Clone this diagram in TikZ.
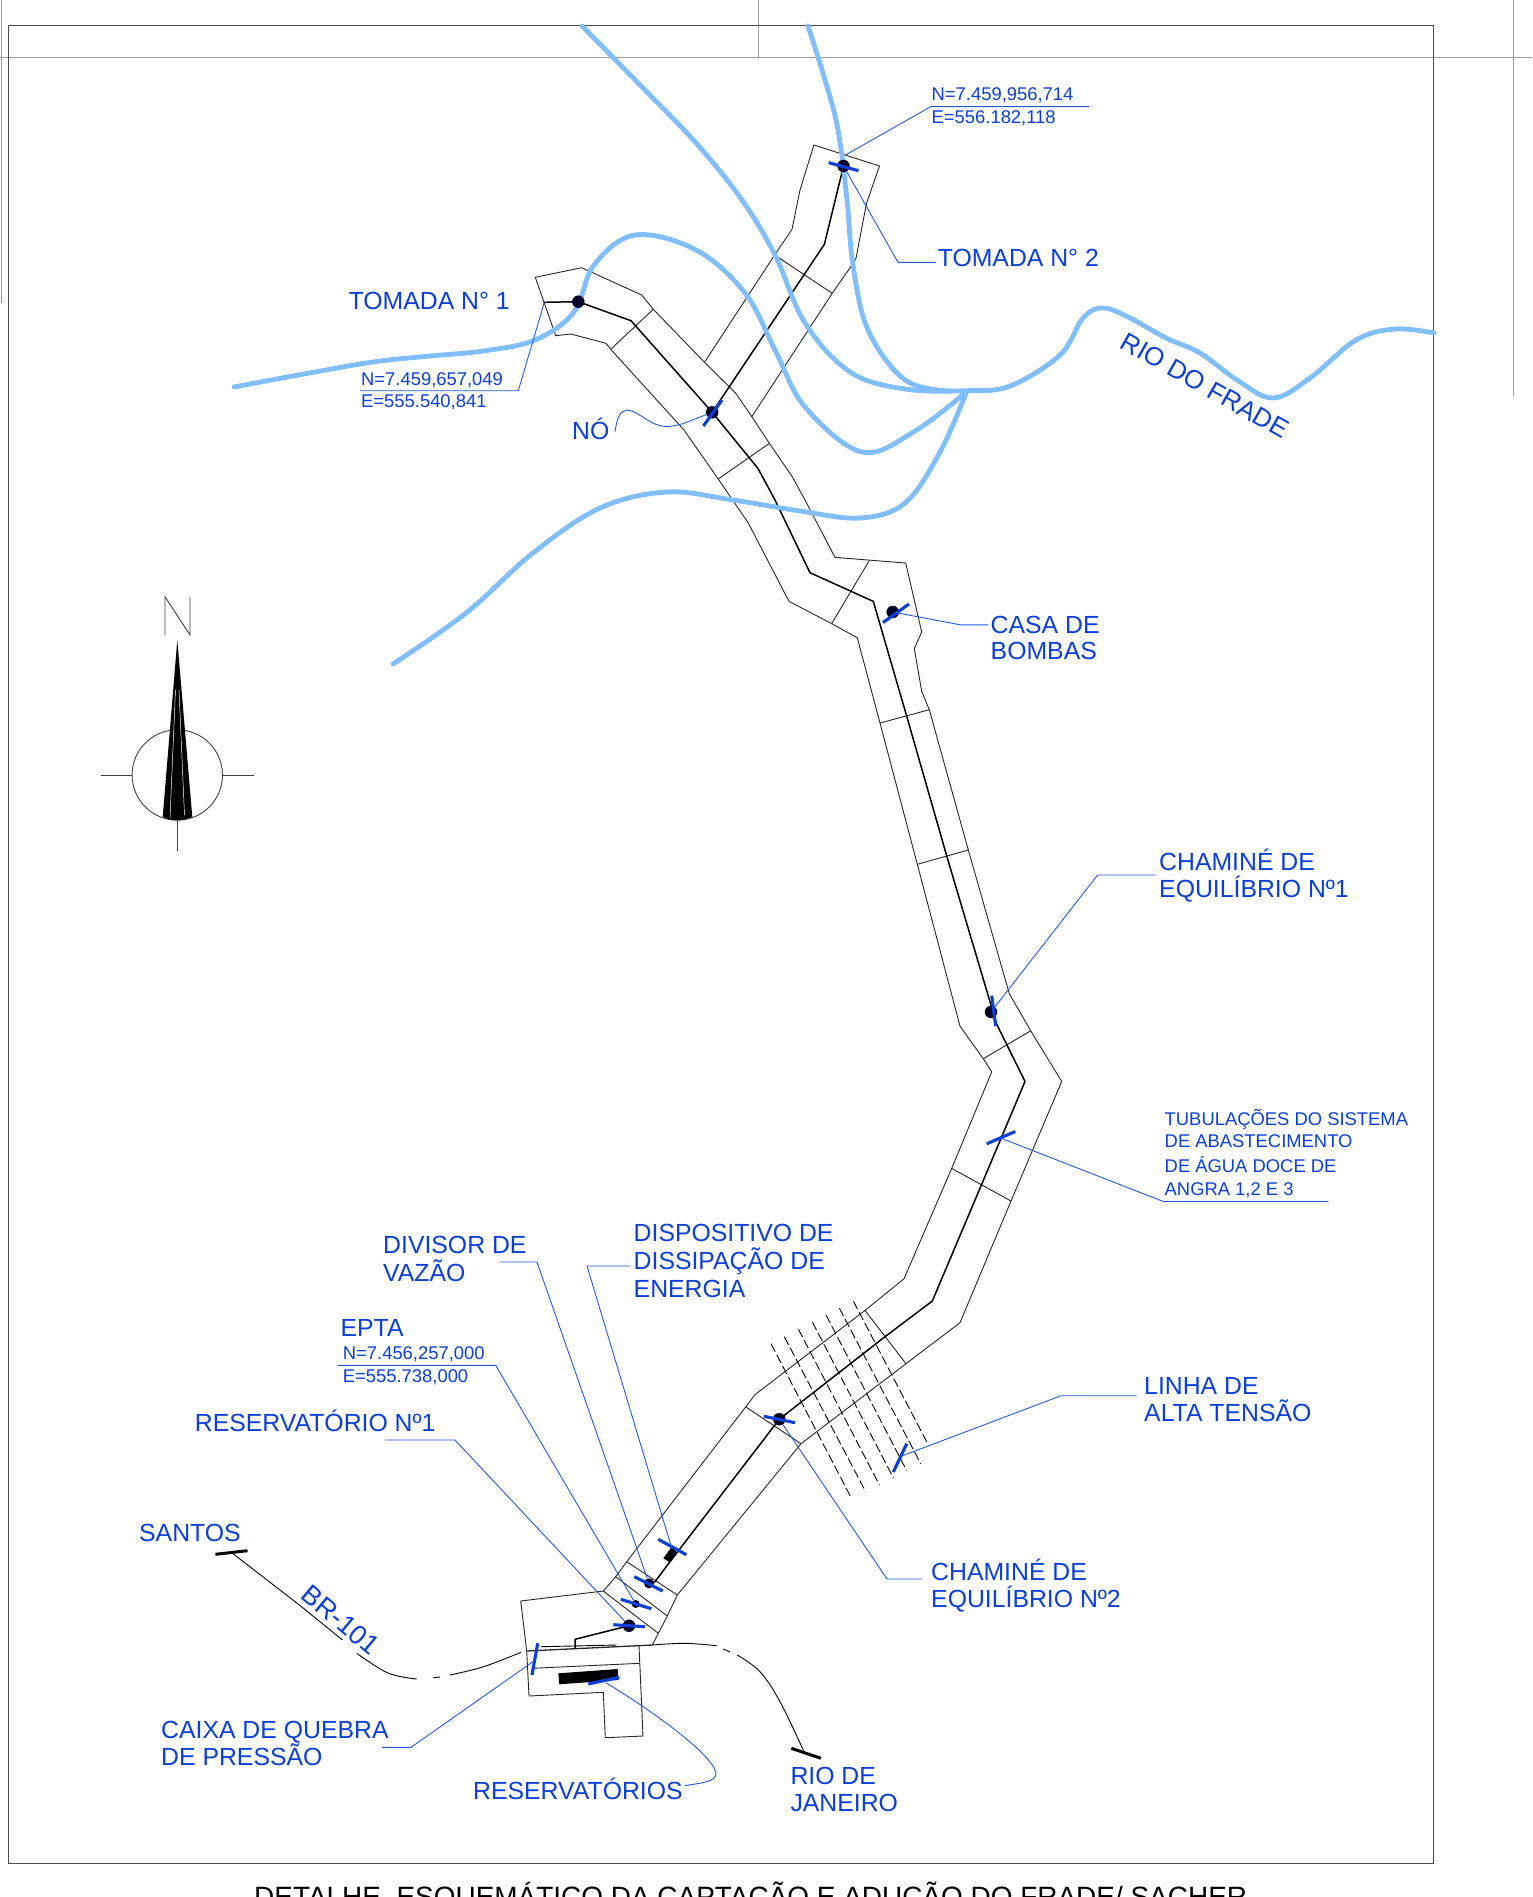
\documentclass[tikz,border=0pt]{standalone}
\usepackage{fontspec}
\setmainfont{Liberation Sans}
\usepackage{xcolor}
\usetikzlibrary{calc,positioning}

\definecolor{labelblue}{HTML}{0B3FD8}
\definecolor{leaderblue}{HTML}{2458E6}
\definecolor{riverblue}{HTML}{80BEFF}
\definecolor{framegray}{HTML}{9A9A9A}

\tikzset{
    channel/.style={black!85, line width=0.9pt, line join=round},
    pipe/.style={black, line width=1.5pt, line join=round},
    road/.style={black, line width=0.9pt},
    river/.style={riverblue, line width=4.8pt, line cap=round, line join=round},
    leader/.style={leaderblue, line width=0.9pt},
    tickmark/.style={labelblue, line width=3.1pt},
    roadtick/.style={black, line width=3pt},
    pumpdot/.style={circle, fill=black!85!blue, inner sep=0pt, minimum size=12.5pt},
    bigtext/.style={font=\fontsize{24.8}{26.7}\selectfont, text=labelblue, anchor=base west, inner sep=0pt, align=left},
    smalltext/.style={font=\fontsize{18.4}{22.5}\selectfont, text=labelblue, anchor=base west, inner sep=0pt, align=left},
}

\begin{document}
\begin{tikzpicture}[x=1pt,y=-1pt]
    \useasboundingbox (0,0) rectangle (1532,1897);

    % Sheet frame and the cut lines around it
    \draw[framegray, line width=1pt] (0,58) -- (1532,58);
    \draw[framegray, line width=1pt] (758,0) -- (758,58);
    \draw[framegray, line width=1pt] (1.7,0) -- (1.7,303);
    \draw[framegray, line width=1pt] (1513.4,0) -- (1513.4,396);
    \draw[black!70, line width=1pt] (8.7,26) rectangle (1433.7,1863);

    % Draw the channel outline from the first intake to the reservoirs
    \draw[channel] (535.3,277.3) -- (581.7,267.7) -- (641.7,295) -- (653.3,309.3) -- (704.5,362.3) -- (735.8,393.3)
        -- (751.8,416.7) -- (769.4,443.3) -- (792.2,476.7) -- (805,500) -- (835,557.4) -- (905.7,563) -- (921.7,632)
        -- (914.3,648.5) -- (921.7,691.4) -- (929.3,709.7) -- (968.3,850) -- (1009.3,993.7) -- (1030.7,1030.8)
        -- (1061.7,1081.4) -- (1011,1201) -- (960,1322.7) -- (906,1363.7) -- (801,1443.7) -- (677.3,1595)
        -- (667.3,1616) -- (658.3,1633.3) -- (652.3,1645);
    \draw[channel] (535.3,277.3) -- (555.7,335.7) -- (570.7,334) -- (606,343.3) -- (610.7,349.3) -- (684,430)
        -- (718.2,479) -- (748.3,523) -- (789,601.4) -- (831.7,623.6) -- (857.3,637.8) -- (880,723) -- (917.3,864.3)
        -- (960,1026.2) -- (983.3,1058.7) -- (991.7,1071.9) -- (951.7,1168.4) -- (904,1278.8) -- (865,1310.4)
        -- (755,1394.6) -- (745.7,1406.9) -- (626.7,1561.7) -- (615.7,1576.7) -- (603.3,1591);

    % Draw the branch of the second intake
    \draw[channel] (704.5,362.3) -- (774.6,255) -- (792,229.3) -- (800,190) -- (813.9,145) -- (879.5,166)
        -- (866.5,203.3) -- (856,258.3) -- (850.8,266.7) -- (832.2,293.3) -- (751.8,416.7);

    % Draw the reservoir block
    \draw[channel] (603.3,1591) -- (520.7,1601) -- (526.7,1651) -- (529,1696) -- (603.3,1692.3) -- (605.3,1737.7)
        -- (643,1736) -- (639,1645.7);
    \draw[channel, line width=1.3pt] (526.7,1651) -- (652.3,1645);
    \draw[channel] (531.7,1668.3) -- (639.7,1663.3);
    \fill[black] (558.3,1673.3) -- (617.7,1669) -- (618.3,1680) -- (559.3,1684.3) -- cycle;

    % Draw the cross lines of the channel
    \foreach \xa/\ya/\xb/\yb in {774.6/255/832.2/293.3, 610.7/349.3/653.3/309.3, 718.2/479/769.4/443.3,
        831.7/623.6/869.3/560.5, 880/723/929.3/709.7, 917.3/864.3/968.3/850, 983.3/1058.7/1030.7/1030.8,
        951.7/1168.4/1011/1201, 865/1310.4/906/1363.7, 745.7/1406.9/801/1443.7, 626.7/1561.7/677.3/1595,
        615.7/1576.7/667.3/1616, 603.3/1591/658.3/1633.3} {
        \draw[channel] (\xa,\ya) -- (\xb,\yb);
    }

    % Draw the pipelines
    \draw[pipe] (544,302.3) -- (578.3,301.7) -- (631,320.7) -- (712.2,412.3) -- (757.9,468.3) -- (775,500) -- (810,572.7)
        -- (873.3,601.4) -- (906.7,716.2) -- (946.7,855.9) -- (996.7,1024.3) -- (1025,1081.4) -- (981,1185.9)
        -- (932.3,1301) -- (885,1336.7) -- (779.3,1419.2) -- (670,1561.7);
    \draw[pipe] (712.2,412.3) -- (824.4,244.3) -- (843.5,166);
    \draw[pipe] (670,1561.7) -- (655,1581.7) -- (649,1583.3);
    \draw[pipe] (629,1625.7) -- (575,1639.3) -- (575,1648.3);
    \fill[black] (663.3,1558.3) -- (671.7,1546.7) -- (677.3,1552.7) -- (670,1562.3) -- cycle;

    % Draw the power line crossing
    \foreach \xa/\ya/\xb/\yb in {771/1343.7/851.7/1498.8, 784.3/1336.7/865.7/1491.7, 798.3/1329/879.3/1484.7,
        812.3/1322/893.3/1477.7, 826/1315/906.7/1470.7, 839.3/1308/920.7/1463.7, 853.3/1301/927.7/1443.7} {
        \draw[black, line width=0.9pt, dash pattern=on 9pt off 3.5pt] (\xa,\ya) -- (\xb,\yb);
    }

    % Draw the BR-101 road in pieces
    \draw[road] (232.5,1553.3) -- (299.4,1605) -- (342.5,1640);
    \draw[road] plot[smooth, tension=0.6] coordinates {(356.8,1653.3) (388,1673) (416.7,1679)};
    \draw[road] (433.4,1677.7) -- (440,1677);
    \draw[road] plot[smooth, tension=0.6] coordinates {(450,1675) (483.6,1666.7) (521,1652.3)};
    \draw[road] (541,1646.7) -- (616.7,1645);
    \draw[road] plot[smooth, tension=0.6] coordinates {(652.3,1645) (684.6,1643.3) (716.7,1645.7)};
    \draw[road] (723.3,1649) -- (730,1652);
    \draw[road] plot[smooth, tension=0.6] coordinates {(737.3,1655) (760,1671.7) (780,1701.7) (804,1751.7)};
    \draw[roadtick] (215.4,1554.3) -- (247.5,1550.7);
    \draw[roadtick] (791.3,1748.3) -- (821,1758.3);

    % Draw the rivers
    \draw[river] plot[smooth, tension=0.6] coordinates {(234,387) (304,374) (373,362) (430,356) (483,351) (535,340) (574,312)
        (594,265) (635,235) (696,250) (745,293) (775,350) (805,407) (862,452) (915,431) (966.5,391.7)};
    \draw[river] plot[smooth, tension=0.6] coordinates {(582,26) (640,85) (696,143) (742,200) (775,255) (805,323) (850,372)
        (905,389) (966.5,390.7) (1010,386) (1060,355) (1083,318) (1103,308) (1130,318) (1166,338) (1200,353) (1237,380)
        (1273,398) (1310,378) (1356,340) (1395,329) (1434,333)};
    \draw[river] plot[smooth, tension=0.6] coordinates {(808,26) (825,80) (838,130) (847,200) (853,265) (868,330) (905,380) (950,391)};
    \draw[river] plot[smooth, tension=0.6] coordinates {(393,664) (466,613) (533,553) (600,508) (667,492) (733,500) (800,511)
        (860,518) (905,503) (940,452) (966.5,392)};

    % Points along the pipeline
    \node[pumpdot] (dotTomadaA) at (578.3,301.7) {};
    \node[pumpdot] (dotTomadaB) at (843.5,166) {};
    \node[pumpdot] (dotNo) at (712.2,412.3) {};
    \node[pumpdot] (dotCasa) at (892.7,612) {};
    \node[pumpdot] (dotChamineA) at (991,1012) {};
    \node[pumpdot] (dotChamineB) at (779.3,1419.2) {};
    \node[pumpdot, minimum size=10pt] (dotDivisor) at (649,1583.3) {};
    \node[pumpdot, minimum size=8pt] (dotEpta) at (635.7,1604) {};
    \node[pumpdot] (dotReservatorio) at (629,1625.7) {};

    % Draw the blue marks on the points
    \foreach \xa/\ya/\xb/\yb in {828.7/162.7/858.5/170.7, 703.4/426/722/400, 883/622.5/909/604, 991.7/995.6/995.7/1026.2,
        986.7/1143.8/1015.3/1131.5, 764/1416.3/795/1422.7, 893.3/1472/906.7/1443.7, 658.3/1539.3/686.3/1554.7,
        634.3/1576.7/662.7/1591, 620.7/1599.3/651.3/1608.7, 613.3/1624.7/645/1626.7, 537.7/1643.3/532/1675,
        588.3/1684/619.3/1677.3} {
        \draw[tickmark] (\xa,\ya) -- (\xb,\yb);
    }

    % Labels
    \node[bigtext] (lblTomadaA) at (348.5,309.8) {TOMADA N° 1};
    \node[bigtext] (lblTomadaB) at (937.6,266.8) {TOMADA N° 2};
    \node[bigtext] (lblNo) at (572,439.8) {NÓ};
    \node[bigtext] (lblCasa) at (990.5,659.9) {CASA DE\\BOMBAS};
    \node[bigtext] (lblChamineA) at (1159,897.1) {CHAMINÉ DE\\EQUILÍBRIO Nº1};
    \node[bigtext] (lblChamineB) at (931,1607.5) {CHAMINÉ DE\\EQUILÍBRIO Nº2};
    \node[bigtext] (lblLinha) at (1144,1421.3) {LINHA DE\\ALTA TENSÃO};
    \node[bigtext] (lblDispositivo) at (633.5,1297.8) {DISPOSITIVO DE\\[1.3pt]DISSIPAÇÃO DE\\[1.3pt]ENERGIA};
    \node[bigtext] (lblDivisor) at (383,1281.8) {DIVISOR DE\\[1.3pt]VAZÃO};
    \node[bigtext] (lblEpta) at (340.4,1336.5) {EPTA};
    \node[bigtext] (lblReservatorio) at (194.7,1431.5) {RESERVATÓRIO Nº1};
    \node[bigtext] (lblSantos) at (139,1541.8) {SANTOS};
    \node[bigtext] (lblCaixa) at (161,1765.5) {CAIXA DE QUEBRA\\DE PRESSÃO};
    \node[bigtext] (lblReservatorios) at (473,1799.8) {RESERVATÓRIOS};
    \node[bigtext] (lblRioJaneiro) at (790.3,1811.2) {RIO DE\\JANEIRO};
    \node[bigtext, anchor=center, rotate=-40, font=\fontsize{27}{29}\selectfont] (lblRoad) at (340.5,1620) {BR-101};
    \node[bigtext, anchor=center, rotate=-29.5, font=\fontsize{26}{28}\selectfont] (lblFrade) at (1205,385.5) {RIO DO FRADE};
    \node[smalltext] (lblCoordB) at (931.5,123.5) {N=7.459,956,714\\E=556.182,118};
    \node[smalltext] (lblCoordA) at (361,407.5) {N=7.459,657,049\\E=555.540,841};
    \node[smalltext] (lblCoordEpta) at (342.7,1382.1) {N=7.456,257,000\\E=555.738,000};
    \node[smalltext] (lblTubulacoes) at (1164.5,1195.4) {TUBULAÇÕES DO SISTEMA\\DE ABASTECIMENTO\\[2.9pt]DE ÁGUA DOCE DE\\ANGRA 1,2 E 3};
    \node[anchor=base west, inner sep=0pt, font=\fontsize{27.95}{30}\selectfont] (lblTitulo) at (254,1906) {DETALHE\ \ ESQUEMÁTICO DA CAPTAÇÃO E ADUÇÃO DO FRADE/ SACHER};

    % Ends of the leaders
    \coordinate (endTomadaA) at (360,390.7);
    \coordinate (endTomadaB) at (936,262.3);
    \coordinate (endCoordB) at (1089,106.7);
    \coordinate (endNo) at (615,431.7);
    \coordinate (endCasa) at (988.3,624.8);
    \coordinate (endChamineA) at (1155.6,875);
    \coordinate (endChamineB) at (922,1579);
    \coordinate (endTubulacoes) at (1328.3,1201.5);
    \coordinate (endLinha) at (1136.7,1395.7);
    \coordinate (endDispositivo) at (630,1266);
    \coordinate (endDivisor) at (499.3,1262);
    \coordinate (endEpta) at (337.9,1365.3);
    \coordinate (endReservatorio) at (385,1440);
    \coordinate (endCaixa) at (382.2,1747.3);
    \coordinate (endReservatorios) at (684.6,1785.7);
    \coordinate (tipTubulacoes) at (1001.7,1138.5);
    \coordinate (tipLinha) at (901.7,1456);
    \coordinate (tipDispositivo) at (671.7,1548);
    \coordinate (tipCaixa) at (535.3,1660);
    \coordinate (tipReservatorios) at (605.7,1682.7);
    \coordinate (tipCoordA) at (544.3,302.3);
    \coordinate (tipCoordB) at (845.5,155);

    % Draw the leaders
    \draw[leader] (tipCoordB) -- (930.7,106.7) -- (endCoordB);
    \draw[leader] (dotTomadaB) -- (898,262.3) -- (endTomadaB);
    \draw[leader] (tipCoordA) -- (518.3,390.7) -- (endTomadaA);
    \draw[leader] (endNo) .. controls (617,418) and (620,411) .. (626.7,410) .. controls (640,411) and (650,427) .. (668,426.5) .. controls (680,426) and (692,420) .. (dotNo);
    \draw[leader] (dotCasa) -- (960,624.8) -- (endCasa);
    \draw[leader] (dotChamineA) -- (1097.6,875) -- (endChamineA);
    \draw[leader] (dotChamineB) -- (887,1579) -- (endChamineB);
    \draw[leader] (tipTubulacoes) -- (1163.3,1201.5) -- (endTubulacoes);
    \draw[leader] (tipLinha) -- (1061,1395.7) -- (endLinha);
    \draw[leader] (tipDispositivo) -- (587,1266) -- (endDispositivo);
    \draw[leader] (dotDivisor) -- (537,1262) -- (endDivisor);
    \draw[leader] (dotEpta) -- (495.7,1365.3) -- (endEpta);
    \draw[leader] (dotReservatorio) -- (455,1440) -- (endReservatorio);
    \draw[leader] (tipCaixa) -- (411,1747.3) -- (endCaixa);
    \draw[leader] (tipReservatorios) .. controls (640,1703) and (712,1752) .. (716,1773) .. controls (717,1782) and (700,1783) .. (endReservatorios);

    % Draw the north arrow
    \node[draw=black!75, line width=0.9pt, circle, inner sep=0pt, minimum size=90.4pt] (compass) at (177.3,775) {};
    \draw[black!75, line width=0.9pt] (compass.west) -- ++(-30.6,0);
    \draw[black!75, line width=0.9pt] (compass.east) -- ++(30.6,0);
    \draw[black!75, line width=0.9pt] (compass.south) -- ++(0,30.7);
    \fill[black] (177.3,640) -- (192.3,817) .. controls (187,819) and (182,820.2) .. (177.3,820.2) .. controls (172.6,820.2) and (167,819) .. (162.7,817) -- cycle;
    \draw[white, line width=0.5pt] (175.5,690) -- (170,818);
    \draw[white, line width=0.5pt] (179,690) -- (184.5,815);
    \draw[black!75, line width=0.9pt, line join=miter] (165,635) -- (165,596.7) -- (190,635) -- (190,596.7);
\end{tikzpicture}
\end{document}
